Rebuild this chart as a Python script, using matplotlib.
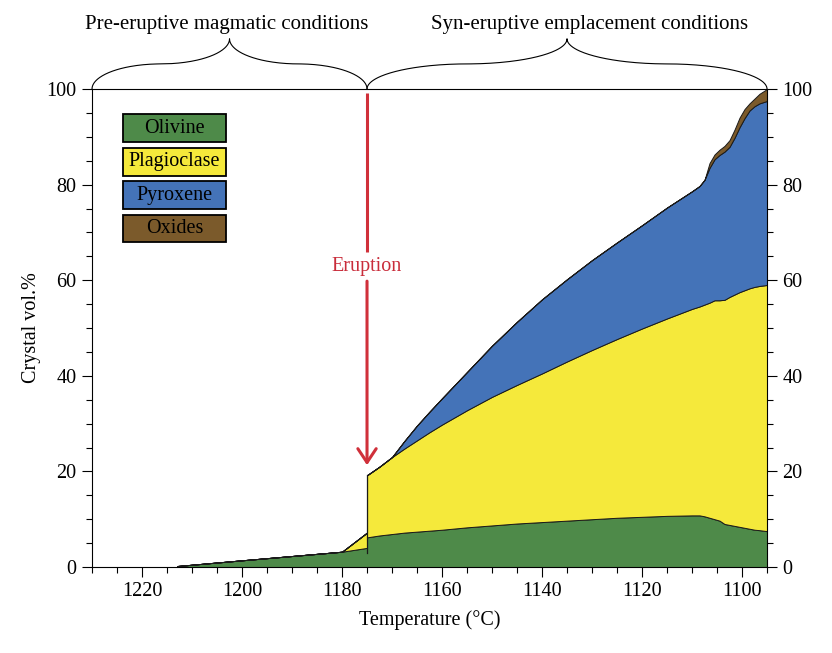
import matplotlib
matplotlib.use("Agg")
import matplotlib.pyplot as plt
from matplotlib.patches import Rectangle
from matplotlib.ticker import MultipleLocator
import numpy as np

plt.rcParams['font.family'] = ['Liberation Serif', 'DejaVu Serif']
plt.rcParams['font.size'] = 14.5

# temperature grid (deg C); 1175 appears twice for the eruption step
temp = [1213, 1200, 1190, 1180, 1175, 1175, 1172.5, 1170, 1167.5, 1165, 1162.5, 1160,
        1155, 1150, 1145, 1140, 1135, 1130, 1125, 1120, 1115, 1110, 1108.5, 1107.5,
        1106.5, 1105.5, 1104.5, 1103.5, 1102.5, 1101.5, 1100.5, 1099.5, 1098.5,
        1097.5, 1096.5, 1095]

# crystal vol.% of each phase
olivine = [0.2, 1.4, 2.3, 3.2, 4.0, 6.2, 6.6, 6.9, 7.2, 7.4, 7.6, 7.8,
           8.3, 8.7, 9.1, 9.4, 9.7, 10.0, 10.3, 10.5, 10.7, 10.8, 10.8, 10.6,
           10.3, 10.0, 9.7, 9.0, 8.8, 8.6, 8.4, 8.2, 8.0,
           7.8, 7.7, 7.5]
plagioclase = [0, 0, 0, 0, 3.2, 13.0, 14.4, 16.1, 17.6, 19.1, 20.6, 22.0,
               24.5, 26.9, 29.0, 31.1, 33.3, 35.4, 37.4, 39.4, 41.3, 43.2, 43.7, 44.3,
               45.0, 45.8, 46.1, 46.9, 47.7, 48.4, 49.1, 49.7, 50.3,
               50.8, 51.1, 51.5]
pyroxene = [0, 0, 0, 0, 0, 0, 0, 0, 1.6, 3.1, 4.3, 5.5,
            8.0, 10.7, 13.2, 15.5, 17.2, 18.8, 20.2, 21.6, 23.2, 24.6, 25.2, 26.1,
            28.2, 29.5, 30.4, 31.0, 31.4, 32.8, 34.5, 36.0, 37.2,
            37.8, 38.2, 38.5]
oxides = [0, 0, 0, 0, 0, 0, 0, 0, 0, 0, 0, 0,
          0, 0, 0, 0, 0, 0, 0, 0, 0, 0, 0, 0,
          1.0, 1.0, 1.1, 1.2, 1.4, 1.7, 2.0, 1.9, 1.5,
          1.6, 2.0, 2.5]

phases = ['Olivine', 'Plagioclase', 'Pyroxene', 'Oxides']
colors = ['#4e8a49', '#f5e93b', '#4473b8', '#7b5a2b']

t_eruption = 1175
t_left, t_right = 1230, 1095

fig = plt.figure(figsize=(8.32, 6.53), dpi=100)
ax = fig.add_axes([0.1106, 0.1317, 0.8113, 0.732])

ax.stackplot(temp, olivine, plagioclase, pyroxene, oxides, colors=colors,
             edgecolor='#1a1a1a', linewidth=0.7)

# vertical edge of the eruption step
i_pre = temp.index(t_eruption)
ax.plot([t_eruption, t_eruption],
        [olivine[i_pre] - 1.1, olivine[i_pre + 1] + plagioclase[i_pre + 1]],
        color='#1a1a1a', lw=0.9)

ax.set_xlim(t_left, t_right)
ax.set_ylim(0, 100)
ax.xaxis.set_major_locator(MultipleLocator(20))
ax.xaxis.set_minor_locator(MultipleLocator(5))
ax.yaxis.set_major_locator(MultipleLocator(20))
ax.yaxis.set_minor_locator(MultipleLocator(5))
ax.tick_params(which='both', direction='out', top=False, right=True, labelright=True)
ax.tick_params(which='major', length=7, width=0.8, pad=4)
ax.tick_params(which='minor', length=4, width=0.8)
for s in ax.spines.values():
    s.set_linewidth(0.8)
ax.set_xlabel('Temperature (°C)', labelpad=6)
ax.set_ylabel('Crystal vol.%', labelpad=4)

# eruption arrow
red = '#d0303a'
ax.plot([t_eruption, t_eruption], [99.2, 65.8], color=red, lw=2.2, solid_capstyle='butt')
ax.annotate('', xy=(t_eruption, 21.3), xytext=(t_eruption, 59.8),
            arrowprops=dict(arrowstyle='->,head_length=0.45,head_width=0.3',
                            color=red, lw=2.2, mutation_scale=22, shrinkA=0, shrinkB=0))
ax.text(t_eruption, 62.8, 'Eruption', color='#c92d3b', ha='center', va='center')

# legend boxes
for k, (name, c) in enumerate(zip(phases, colors)):
    yc = 0.918 - 0.07 * k
    ax.add_patch(Rectangle((0.0464, yc - 0.029), 0.152, 0.058, transform=ax.transAxes,
                           facecolor=c, edgecolor='black', lw=1.3, zorder=5))
    ax.text(0.0464 + 0.076, yc, name, transform=ax.transAxes, ha='center',
            va='center', zorder=6)


def brace(x0, x1, h, n=80):
    w = (x1 - x0) / 2
    xm = x0 + w
    th = np.linspace(0, np.pi / 2, n)
    xa = x0 + w / 2 * (1 - np.cos(th))
    ya = h / 2 * np.sin(th)
    xb = x0 + w / 2 + w / 2 * np.sin(th)
    yb = h - h / 2 * np.cos(th)
    hx = np.concatenate([xa, xb])
    hy = np.concatenate([ya, yb])
    bx = np.concatenate([hx, (2 * xm - hx)[::-1]])
    by = np.concatenate([hy, hy[::-1]])
    ax.plot(bx, 1 + by, transform=ax.get_xaxis_transform(), clip_on=False,
            color='black', lw=0.8)


brace(t_left, t_eruption, 0.105)
brace(t_eruption, t_right, 0.105)
ax.text(1203, 1.135, 'Pre-eruptive magmatic conditions', transform=ax.get_xaxis_transform(),
        ha='center', va='center', fontsize=15)
ax.text(1130.5, 1.135, 'Syn-eruptive emplacement conditions', transform=ax.get_xaxis_transform(),
        ha='center', va='center', fontsize=15)

fig.savefig('out.png', dpi=100)
